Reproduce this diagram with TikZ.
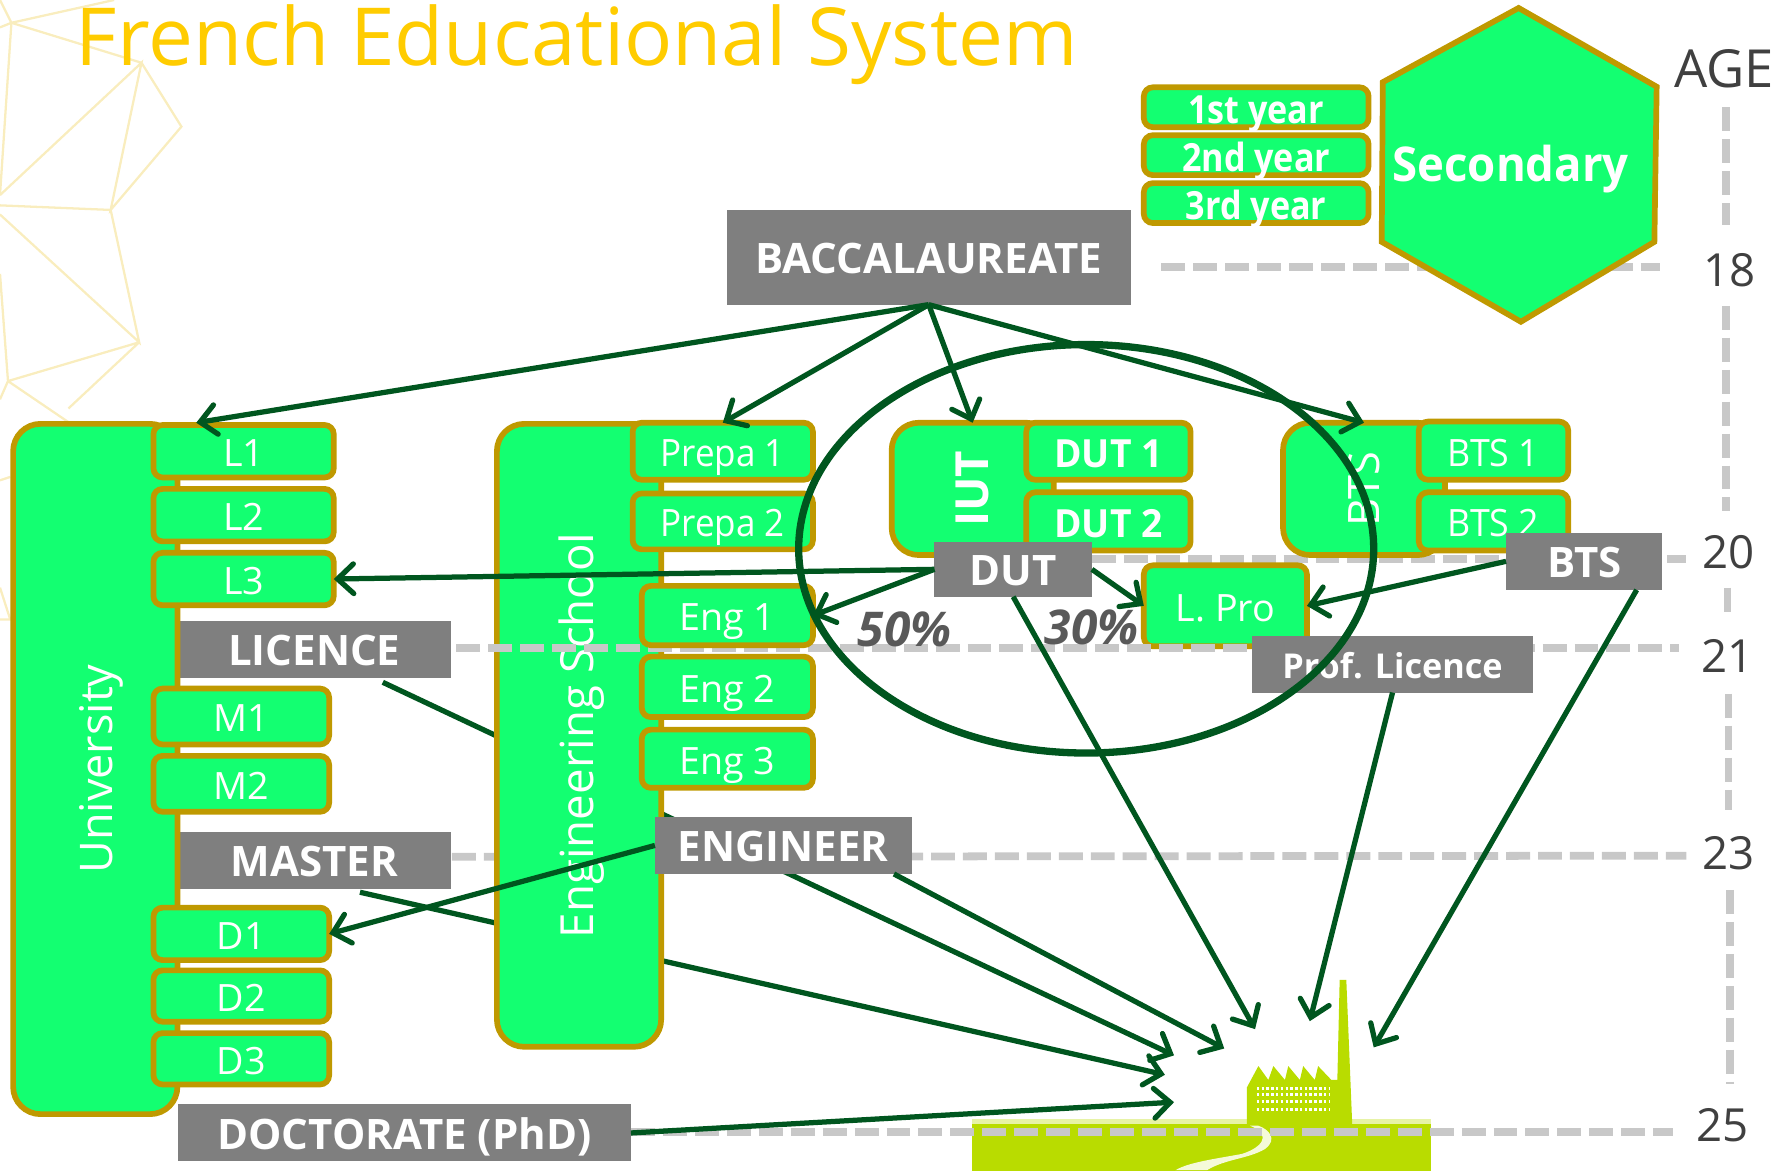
\documentclass[tikz,border=0pt]{standalone}
\usepackage{fontspec}
\setmainfont{Open Sans}
\usetikzlibrary{arrows.meta,calc,shapes.geometric}
\definecolor{gfill}{HTML}{13FF71}
\definecolor{gold}{HTML}{BF9900}
\definecolor{dgreen}{HTML}{00561F}
\definecolor{lab}{HTML}{7F7F7F}
\definecolor{dash}{HTML}{C8C8C8}
\definecolor{fact}{HTML}{B9DC00}
\definecolor{poly}{HTML}{F9EDBE}
\definecolor{agec}{HTML}{404040}
\newcommand{\fsz}[1]{\fontsize{#1}{#1}\selectfont}
\newcommand{\sx}[2]{\scalebox{#1}[1]{#2}}
\def\ins{1.5}
\newcommand{\rbox}[7]{%
 \pgfmathsetmacro\cxx{(#3+#5)/2}\pgfmathsetmacro\cyy{(#4+#6)/2}%
 \pgfmathsetmacro\ww{(#5-#3)*0.5-\ins}\pgfmathsetmacro\hh{(#6-#4)*0.5-\ins}%
 \node[#1,minimum width=\ww pt,minimum height=\hh pt] (#2) at (\cxx,\cyy) {#7};}
\tikzset{
 x=0.5pt,y=-0.5pt,
 big/.style={draw=gold,fill=gfill,line width=2.5pt,rounded corners=12pt,inner sep=0pt,outer sep=0pt,text=white},
 yearbox/.style={draw=gold,fill=gfill,line width=2.5pt,rounded corners=4pt,inner sep=0pt,outer sep=0pt,text=white,font=\fsz{16.5},text height=13.5pt,text depth=0pt},
 yearbold/.style={yearbox,font=\fsz{17}\bfseries,text height=14pt},
 gray/.style={fill=lab,inner sep=0pt,outer sep=0pt,text=white,font=\fsz{18.4}\bfseries,text height=14.5pt,text depth=0pt},
 dashline/.style={draw=dash,line width=3.4pt,dash pattern=on 10.5pt off 3.5pt},
 link/.style={draw=dgreen,line width=2.3pt,-{Straight Barb[length=7pt,width=13pt,line cap=round,line width=2.3pt]}},
 agel/.style={text=agec,font=\fsz{20},inner sep=0pt},
 pct/.style={text=black!65,font=\fsz{21}\bfseries\itshape,inner sep=0pt},
 bgline/.style={draw=poly,line width=1pt}
}
\begin{document}
\begin{tikzpicture}
\useasboundingbox (0,0) rectangle (1568,1027);
% pale background mesh
\draw[bgline] (0,0)--(10,20)--(124,55)--(159,111)--(97,184)--(124,55)--(0,171);
\draw[bgline] (10,20)--(0,24) (10,20)--(100,0) (10,20)--(0,171) (97,184)--(0,180);
\draw[bgline] (97,184)--(122,300)--(0,188) (122,300)--(7,334)--(0,240) (122,300)--(60,358) (7,334)--(60,370) (7,334)--(0,350);
\draw[bgline] (0,421)--(9,418) (0,515)--(9,543)--(0,543);
% factory
\fill[fact!35] (852,981) rectangle (1254,985);
\fill[fact] (852,985) rectangle (1254,1026);
\begin{scope}[shift={(832.6,832.6)},scale=0.2907]
\fill[fact] (895,530)--(895,415)--(930,350)--(960,392)--(975,350)--(1010,392)--(1020,350)--(1055,392)--(1065,350)--(1100,392)--(1110,350)--(1150,392)--(1168,392)--(1175,90)--(1195,90)--(1213,530)--cycle;
\foreach \yy in {418,436,456,482}
 \draw[white,line width=1.2pt,dash pattern=on 1.1pt off 1pt] (925,\yy)--(1145,\yy);
\fill[white!85!fact] (905,530) .. controls (980,560) and (930,600) .. (880,615) .. controls (800,630) and (720,640) .. (680,664)--(775,664) .. controls (830,630) and (900,630) .. (950,600) .. controls (990,570) and (960,540) .. (930,530)--cycle;
\end{scope}
% free ends at the factory
\coordinate (fD) at (1100,902);
\coordinate (fP) at (1148,895);
\coordinate (fB) at (1204,918);
\coordinate (fE) at (1073,919);
\coordinate (fL) at (1029,925);
\coordinate (fM) at (1021,942);
\coordinate (fH) at (1029,966);
% dashed age lines
\coordinate (dA1) at (1018,234); \coordinate (dA2) at (1455,234);
\coordinate (dB1) at (957,490); \coordinate (dB2) at (1478,490);
\coordinate (dC1) at (400,568); \coordinate (dC2) at (1472,568);
\coordinate (dD1) at (396,751); \coordinate (dD2) at (1478,750);
\coordinate (dE1) at (553,992); \coordinate (dE2) at (1466,992);
\draw[dashline] (dA1)--(dA2);
\draw[dashline] (dB1)--(dB2);
\draw[dashline] (dD1)--(dD2);
\draw[dashline] (dE1)--(dE2);
\coordinate (v1) at (1513,94); \coordinate (v2) at (1513,197);
\coordinate (v3) at (1513,268); \coordinate (v4) at (1513,448);
\coordinate (v5) at (1514,515); \coordinate (v6) at (1514,536);
\coordinate (v7) at (1515,608); \coordinate (v8) at (1515,710);
\coordinate (v9) at (1516,780); \coordinate (v10) at (1516,950);
\draw[dashline] (v1)--(v2);
\draw[dashline] (v3)--(v4);
\draw[dashline] (v5)--(v6);
\draw[dashline] (v7)--(v8);
\draw[dashline] (v9)--(v10);
% age labels
\node[agel,font=\fsz{23}] (nAge) at (1511,60) {AGE};
\node[agel] (n18) at (1516,237) {18};
\node[agel] (n20) at (1515,484) {20};
\node[agel] (n21) at (1514,575) {21};
\node[agel] (n23) at (1515,748) {23};
\node[agel] (n25) at (1510,986) {25};
% title
\node[anchor=base west,inner sep=0pt,text={rgb,255:red,255;green,204;blue,0},font=\fsz{35.1}] (title) at (66,57) {French Educational System};
% grey labels needed as sources first
\def\ins{0}
\rbox{gray}{lic}{156}{544}{395}{594}{LICENCE}
\rbox{gray}{mas}{156}{729}{395}{779}{MASTER}
\rbox{gray}{doc}{156}{968}{553}{1018}{DOCTORATE (PhD)}
\def\ins{1.5}
% arrows running behind the school
\draw[link] ($(lic.south)+(60,4)$)--(fL);
\draw[link] ($(mas.south)+(40,3)$)--(fM);
\rbox{big}{uni}{10}{370}{157}{978}{\rotatebox{90}{\raisebox{-7.5pt}[0pt][0pt]{\fsz{19.7}University}}}
\rbox{big}{school}{434}{370}{581}{919}{\rotatebox{90}{\raisebox{-6.5pt}[0pt][0pt]{\fsz{20}Engineering School}}}
\rbox{big}{iut}{780}{369}{925}{488}{\rotatebox{90}{\fsz{20}\bfseries IUT}}
\rbox{big}{bts}{1123}{369}{1268}{488}{\rotatebox{90}{\fsz{19}BTS}}
\rbox{yearbox}{L1}{133}{371}{294}{420}{L1}
\rbox{yearbox}{L2}{133}{427}{294}{476}{L2}
\rbox{yearbox}{L3}{133}{483}{294}{532}{L3}
\rbox{yearbox}{M1}{133}{602}{290}{654}{M1}
\rbox{yearbox}{M2}{133}{661}{290}{713}{M2}
\rbox{yearbox}{D1}{133}{794}{290}{843}{D1}
\rbox{yearbox}{D2}{133}{849}{290}{897}{D2}
\rbox{yearbox}{D3}{133}{904}{290}{952}{D3}
\rbox{yearbox}{Pr1}{553}{369}{714}{422}{\sx{0.93}{Prepa 1}}
\rbox{yearbox}{Pr2}{553}{431}{714}{483}{\sx{0.93}{Prepa 2}}
\rbox{yearbox}{lpro}{1001}{494}{1147}{568}{L. Pro}
\draw[dashline] (dC1)--(dC2);
\rbox{yearbox}{E1}{561}{512}{714}{567}{Eng 1}
\rbox{yearbox}{E2}{561}{574}{714}{630}{Eng 2}
\rbox{yearbox}{E3}{561}{638}{714}{692}{Eng 3}
\rbox{yearbold}{DU1}{898}{369}{1045}{422}{\sx{0.96}{DUT 1}}
\rbox{yearbold}{DU2}{898}{430}{1045}{484}{\sx{0.96}{DUT 2}}
\rbox{yearbox}{BT1}{1242}{368}{1376}{422}{\sx{0.95}{BTS 1}}
\rbox{yearbox}{BT2}{1242}{430}{1376}{484}{\sx{0.95}{BTS 2}}
\rbox{yearbold}{Y1}{1001}{75}{1201}{113}{\sx{0.88}{1st year}}
\rbox{yearbold}{Y2}{1001}{117}{1201}{155}{\sx{0.88}{2nd year}}
\rbox{yearbold}{Y3}{1001}{159}{1201}{197}{\sx{0.88}{3rd year}}
% hexagon
\draw[draw=gold,fill=gfill,line width=2.5pt,line join=miter] (1331,7)--(1452,76)--(1450,212)--(1333,282)--(1211,212)--(1212,72)--cycle;
\node[text=white,font=\fsz{21}\bfseries,inner sep=0pt] (sec) at (1324,148) {\sx{0.95}{Secondary}};
% grey labels
\def\ins{0}
\rbox{gray}{engg}{574}{716}{799}{766}{ENGINEER}
\rbox{gray}{bac}{637}{184}{991}{267}{BACCALAUREATE}
\rbox{gray}{dut}{819}{475}{957}{523}{DUT}
\rbox{gray}{btsg}{1320}{467}{1457}{517}{BTS}
\rbox{gray,text height=12.5pt}{prof}{1097}{557}{1344}{607}{\fsz{15}Prof. Licence}
\def\ins{1.5}
\node[pct] (p50) at (793,552) {50\%};
\node[pct] (p30) at (957,550) {30\%};
% circle around the DUT path
\draw[dgreen,line width=3.2pt] (952,481) ellipse [x radius=252,y radius=179];
% arrows
\draw[link] (bac.south)--($(L1.north)+(-41.5,-2)$);
\draw[link] (bac.south)--(Pr1.north);
\draw[link] (bac.south)--(iut.north);
\draw[link] (bac.south)--(bts.north);
\draw[link] (dut.west)--(L3.east);
\draw[link] (dut.west)--(E1.east);
\draw[link] (dut.east)--(lpro.west);
\draw[link] (btsg.west)--(lpro.east);
\draw[link] (dut.south)--(fD);
\draw[link] (prof.south)--(fP);
\draw[link] ($(btsg.south)+(46,0)$)--(fB);
\draw[link] ($(engg.south)+(97,0)$)--(fE);
\draw[link] (engg.west)--(D1.east);
\draw[link] (doc.east)--(fH);
\end{tikzpicture}
\end{document}
